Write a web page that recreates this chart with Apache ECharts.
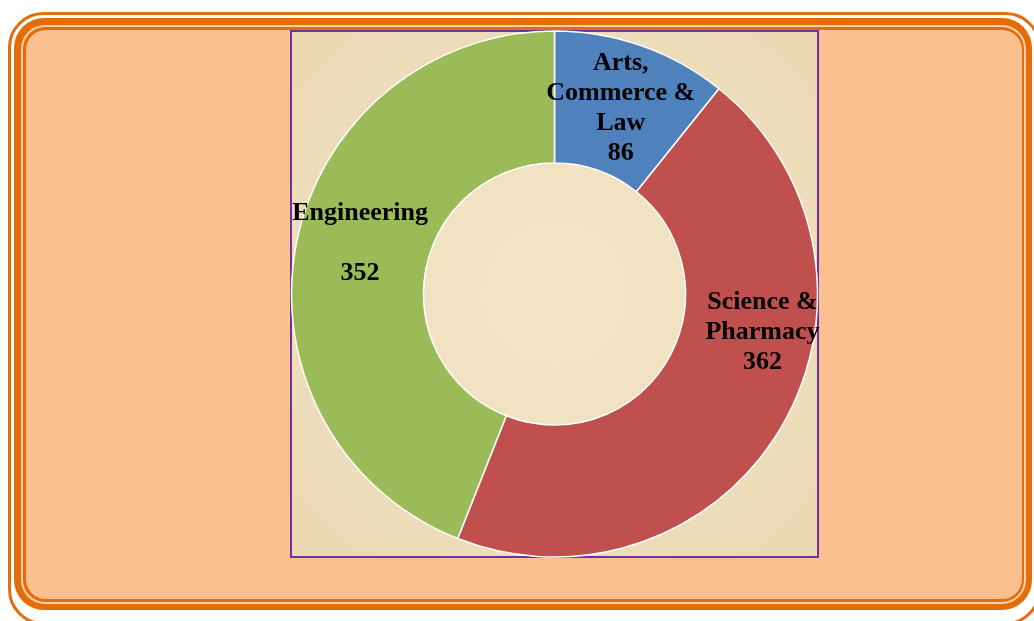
<!DOCTYPE html>
<html>
<head>
<meta charset="utf-8">
<script src="https://cdn.jsdelivr.net/npm/echarts@6/dist/echarts.min.js"></script>
<style>
  html, body { margin: 0; padding: 0; background: #fff; }
  #chart { width: 1034px; height: 621px; }
</style>
</head>
<body>
<div id="chart"></div>
<script>
const categories = ['Arts,\nCommerce &\nLaw', 'Science &\nPharmacy', 'Engineering\n'];
const values = [86, 362, 352];
const colors = ['#4F81BD', '#C0504D', '#9BBB59'];
const labelOffsets = [[0, 3], [35, -62], [2, -13]];

const orange = '#E46C0A';
const peach = '#FAC090';

const chart = echarts.init(document.getElementById('chart'), null, { renderer: 'canvas' });

// frame: thin outer line, thick inner band with a light stripe, peach fill
const frame = [
  { type: 'rect', shape: { x: 9.5, y: 13.5, width: 1030, height: 610, r: 34 }, style: { fill: 'none', stroke: orange, lineWidth: 3 } },
  { type: 'rect', shape: { x: 14, y: 18, width: 1018, height: 592, r: 30 }, style: { fill: orange } },
  { type: 'rect', shape: { x: 21, y: 25, width: 1005, height: 579, r: 24 }, style: { fill: '#FBCFA8' } },
  { type: 'rect', shape: { x: 23, y: 27, width: 1001, height: 575, r: 22 }, style: { fill: orange } },
  { type: 'rect', shape: { x: 26, y: 30, width: 996, height: 569, r: 20 }, style: { fill: peach } },
  {
    type: 'rect', shape: { x: 291, y: 31, width: 527, height: 526 },
    style: {
      fill: new echarts.graphic.RadialGradient(0.5, 0.5, 0.75, [
        { offset: 0, color: '#F3E6C9' },
        { offset: 1, color: '#EBD8B2' }
      ]),
      stroke: '#7030A0', lineWidth: 2
    }
  }
];

chart.setOption({
  animation: false,
  graphic: { elements: frame },
  series: [{
    type: 'pie',
    center: [554.5, 294],
    radius: [131, 263],
    startAngle: 90,
    clockwise: true,
    silent: true,
    itemStyle: { borderColor: '#ffffff', borderWidth: 1.5 },
    label: {
      show: true,
      position: 'inside',
      color: '#000',
      fontFamily: '"Liberation Serif", "Times New Roman", serif',
      fontWeight: 'bold',
      fontSize: 26,
      lineHeight: 30,
      align: 'center',
      formatter: p => p.name + '\n' + p.value
    },
    labelLine: { show: false },
    data: categories.map((c, i) => ({
      name: c,
      value: values[i],
      itemStyle: { color: colors[i] },
      label: { offset: labelOffsets[i] }
    }))
  }]
});
</script>
</body>
</html>
